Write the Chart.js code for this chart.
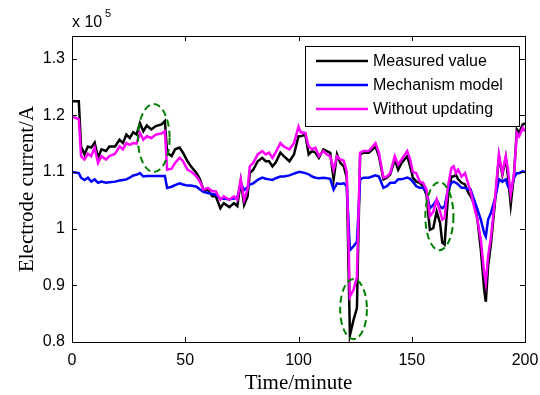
<!DOCTYPE html>
<html>
<head>
<meta charset="utf-8">
<script src="https://cdn.jsdelivr.net/npm/chart.js@4.4.1/dist/chart.umd.min.js"></script>
<style>
  html, body { margin: 0; padding: 0; background: #fff; }
  #wrap { width: 540px; height: 395px; }
</style>
</head>
<body>
<div id="wrap"><canvas id="chart" width="540" height="395"></canvas></div>
<script>
/* =========================
   DATA (current in x 10^5 A)
========================= */

const times = [
    0, 3, 4, 5.5, 7, 8.5, 10, 11.5, 13, 15, 16.5, 19, 21, 22.5, 24, 25.5, 27, 28.5,
    30, 31.5, 33, 35, 37, 39.5, 41, 42, 44, 45.5, 47.5, 49, 51, 52.5, 55, 56.5, 58,
    60, 62, 63.5, 65.5, 67, 69.5, 71.5, 73, 74.5, 76, 77.5, 78.5, 80, 82, 84, 85.5,
    87, 88.5, 90, 92, 93.5, 96, 98, 100, 101, 103, 104.5, 106, 107.5, 109, 111,
    112.5, 114, 115.5, 117, 118.5, 120, 121.3, 122.7, 124.3, 125.8, 127.2, 128.7,
    131, 134, 135.5, 137.5, 139, 140.5, 142.5, 144, 145.5, 148, 149.3, 150.5, 152,
    153.5, 155, 156.5, 158, 159.5, 161, 162.5, 163.5, 164.5, 166, 167.5, 168.5,
    169.5, 170.5, 172, 173.5, 175, 176, 177.5, 179, 180.5, 182, 182.7, 183.7, 185,
    187, 188.5, 190, 191.5, 192.5, 193.7, 195.2, 196.4, 197.4, 199, 200
];

const measured = [
    1.225, 1.225, 1.145, 1.131, 1.145, 1.143, 1.152, 1.125, 1.140, 1.137, 1.145, 1.145, 1.157, 1.151, 1.166, 1.160, 1.170, 1.166,
    1.186, 1.172, 1.182, 1.175, 1.181, 1.184, 1.190, 1.134, 1.128, 1.140, 1.143, 1.134, 1.119, 1.110, 1.098, 1.087, 1.069,
    1.068, 1.057, 1.057, 1.036, 1.045, 1.038, 1.045, 1.040, 1.084, 1.042, 1.057, 1.098, 1.104, 1.119, 1.125, 1.119,
    1.119, 1.110, 1.117, 1.134, 1.128, 1.119, 1.131, 1.163, 1.163, 1.166, 1.131, 1.137, 1.134, 1.125, 1.140,
    1.137, 1.134, 1.087, 1.131, 1.116, 1.110, 1.090, 0.812, 0.839, 0.860, 1.131, 1.134,
    1.134, 1.145, 1.128, 1.087, 1.090, 1.096, 1.122, 1.104, 1.116, 1.128, 1.110, 1.090, 1.083,
    1.081, 1.075, 1.060, 0.998, 1.001, 1.030, 1.010, 0.975, 0.972, 1.057, 1.092, 1.092,
    1.095, 1.087, 1.081, 1.078, 1.063, 1.057, 1.045, 1.016, 0.963, 0.892, 0.871, 0.933, 0.975,
    1.057, 1.128, 1.095, 1.125, 1.092, 1.042, 1.098, 1.175, 1.169, 1.184, 1.186
];

const mechanism = [
    1.100, 1.098, 1.090, 1.086, 1.090, 1.083, 1.087, 1.081, 1.083, 1.081, 1.082, 1.083, 1.085, 1.086, 1.087, 1.090, 1.094, 1.095,
    1.098, 1.092, 1.093, 1.093, 1.093, 1.093, 1.093, 1.072, 1.074, 1.077, 1.080, 1.078, 1.076, 1.076, 1.074, 1.069, 1.065,
    1.063, 1.061, 1.060, 1.053, 1.053, 1.052, 1.053, 1.055, 1.080, 1.068, 1.073, 1.078, 1.080, 1.086, 1.090, 1.088,
    1.087, 1.086, 1.089, 1.092, 1.092, 1.094, 1.097, 1.100, 1.100, 1.098, 1.096, 1.092, 1.090, 1.089, 1.090,
    1.089, 1.088, 1.069, 1.080, 1.079, 1.080, 1.075, 0.962, 0.969, 0.977, 1.087, 1.090,
    1.090, 1.094, 1.092, 1.072, 1.075, 1.081, 1.081, 1.087, 1.087, 1.090, 1.088, 1.083, 1.075,
    1.072, 1.072, 1.066, 1.036, 1.042, 1.051, 1.039, 1.036, 1.039, 1.069, 1.081, 1.083,
    1.081, 1.078, 1.072, 1.072, 1.069, 1.069, 1.051, 1.034, 1.016, 0.992, 0.986, 1.016, 1.028,
    1.057, 1.087, 1.083, 1.087, 1.075, 1.066, 1.090, 1.098, 1.098, 1.101, 1.100
];

const withoutUpdating = [
    1.198, 1.193, 1.128, 1.122, 1.132, 1.128, 1.143, 1.116, 1.128, 1.122, 1.128, 1.132, 1.145, 1.140, 1.151, 1.148, 1.151, 1.150,
    1.169, 1.157, 1.163, 1.160, 1.166, 1.168, 1.172, 1.104, 1.106, 1.116, 1.125, 1.119, 1.104, 1.101, 1.092, 1.083, 1.069,
    1.072, 1.066, 1.066, 1.051, 1.057, 1.051, 1.057, 1.051, 1.087, 1.051, 1.069, 1.110, 1.116, 1.131, 1.137, 1.131,
    1.134, 1.125, 1.135, 1.151, 1.145, 1.140, 1.151, 1.180, 1.170, 1.169, 1.145, 1.140, 1.143, 1.128, 1.137,
    1.131, 1.128, 1.104, 1.128, 1.122, 1.120, 1.100, 0.880, 0.892, 0.915, 1.134, 1.137,
    1.137, 1.151, 1.134, 1.090, 1.092, 1.098, 1.128, 1.113, 1.122, 1.137, 1.122, 1.100, 1.098,
    1.083, 1.081, 1.069, 1.022, 1.030, 1.051, 1.030, 1.016, 1.019, 1.075, 1.107, 1.110,
    1.098, 1.104, 1.092, 1.098, 1.078, 1.066, 1.039, 1.016, 0.980, 0.921, 0.904, 0.951, 0.986,
    1.063, 1.131, 1.098, 1.128, 1.104, 1.060, 1.098, 1.169, 1.163, 1.178, 1.172
];

const seriesNames = ["Measured value", "Mechanism model", "Without updating"];
const seriesColors = ["#000000", "#0000ff", "#ff00ff"];

const xTicks = [0, 50, 100, 150, 200];
const yTicks = [0.8, 0.9, 1.0, 1.1, 1.2, 1.3];

// dashed ellipses: centre (t, v) and radii (rt, rv) in data units
const circles = [
    { t: 36.1, v: 1.160, rt: 7.0, rv: 0.060 },
    { t: 124.3, v: 0.858, rt: 5.9, rv: 0.053 },
    { t: 162.2, v: 1.022, rt: 6.2, rv: 0.060 }
];

/* =========================
   HELPERS
========================= */

const SANS = "'Liberation Sans', Arial, sans-serif";
const SERIF = "'Liberation Serif', 'Times New Roman', serif";

function toPoints(values) {
    return times.map((t, i) => ({ x: t, y: values[i] }));
}

/* =========================
   FRAME / LEGEND PLUGIN
========================= */

const framePlugin = {
    id: "frame",

    afterDatasetsDraw(chart) {
        const { ctx, scales: { x, y } } = chart;
        ctx.save();
        ctx.strokeStyle = "#008000";
        ctx.lineWidth = 2;
        ctx.setLineDash([7, 4]);
        circles.forEach(c => {
            const cx = x.getPixelForValue(c.t);
            const cy = y.getPixelForValue(c.v);
            const rx = Math.abs(x.getPixelForValue(c.t + c.rt) - cx);
            const ry = Math.abs(y.getPixelForValue(c.v + c.rv) - cy);
            ctx.beginPath();
            ctx.ellipse(cx, cy, rx, ry, 0, 0, Math.PI * 2);
            ctx.stroke();
        });
        ctx.restore();
    },

    afterDraw(chart) {
        const { ctx, chartArea: a, scales: { x, y } } = chart;
        ctx.save();

        // box + inward ticks
        ctx.strokeStyle = "#000";
        ctx.lineWidth = 1;
        ctx.strokeRect(a.left + 0.5, a.top + 0.5, a.right - a.left, a.bottom - a.top);

        ctx.beginPath();
        xTicks.forEach(v => {
            const px = Math.round(x.getPixelForValue(v)) + 0.5;
            ctx.moveTo(px, a.bottom); ctx.lineTo(px, a.bottom - 5);
            ctx.moveTo(px, a.top); ctx.lineTo(px, a.top + 5);
        });
        yTicks.forEach(v => {
            const py = Math.round(y.getPixelForValue(v)) + 0.5;
            ctx.moveTo(a.left, py); ctx.lineTo(a.left + 5, py);
            ctx.moveTo(a.right, py); ctx.lineTo(a.right - 5, py);
        });
        ctx.stroke();

        // exponent label
        ctx.fillStyle = "#000";
        ctx.textBaseline = "alphabetic";
        ctx.textAlign = "left";
        ctx.font = "16px " + SANS;
        ctx.fillText("x 10", a.left, 27);
        ctx.font = "11px " + SANS;
        ctx.fillText("5", a.left + 33, 17);

        // axis titles
        ctx.font = "21px " + SERIF;
        ctx.textAlign = "center";
        ctx.fillText("Time/minute", (a.left + a.right) / 2, 389);

        ctx.save();
        ctx.translate(33, (a.top + a.bottom) / 2);
        ctx.rotate(-Math.PI / 2);
        ctx.fillText("Electrode current/A", 0, 0);
        ctx.restore();

        // legend
        const lx = 305, ly = 46, lw = 214, lh = 80;
        ctx.fillStyle = "#fff";
        ctx.fillRect(lx, ly, lw, lh);
        ctx.strokeStyle = "#000";
        ctx.lineWidth = 1;
        ctx.strokeRect(lx + 0.5, ly + 0.5, lw, lh);

        ctx.font = "16px " + SANS;
        ctx.textAlign = "left";
        ctx.textBaseline = "middle";
        seriesNames.forEach((name, i) => {
            const ry = ly + 15 + i * 24;
            ctx.strokeStyle = seriesColors[i];
            ctx.lineWidth = 2.5;
            ctx.beginPath();
            ctx.moveTo(lx + 11, ry);
            ctx.lineTo(lx + 63, ry);
            ctx.stroke();
            ctx.fillStyle = "#000";
            ctx.fillText(name, lx + 68, ry + 1);
        });

        ctx.restore();
    }
};

/* =========================
   CHART
========================= */

const seriesValues = [measured, mechanism, withoutUpdating];

new Chart(document.getElementById("chart"), {

    type: "line",

    data: {
        datasets: seriesValues.map((vals, i) => ({
            label: seriesNames[i],
            data: toPoints(vals),
            borderColor: seriesColors[i],
            backgroundColor: seriesColors[i],
            borderWidth: 2.5,
            pointRadius: 0,
            tension: 0,
            order: 3 - i
        }))
    },

    options: {
        responsive: false,
        animation: false,
        devicePixelRatio: 1,
        layout: {
            padding: { left: 0, right: 15, top: 36, bottom: 0 }
        },
        plugins: {
            legend: { display: false },
            tooltip: { enabled: false }
        },
        scales: {
            x: {
                type: "linear",
                min: 0,
                max: 200,
                grid: { display: false, drawTicks: false },
                border: { display: false },
                afterBuildTicks: s => { s.ticks = xTicks.map(v => ({ value: v })); },
                afterFit: s => { s.height = 53; s.paddingLeft = 0; s.paddingRight = 0; },
                ticks: {
                    color: "#000",
                    padding: 9,
                    maxRotation: 0,
                    font: { family: SANS, size: 16 },
                    callback: v => String(v)
                }
            },
            y: {
                type: "linear",
                min: 0.8,
                max: 1.34,
                grid: { display: false, drawTicks: false },
                border: { display: false },
                afterBuildTicks: s => { s.ticks = yTicks.map(v => ({ value: v })); },
                afterFit: s => { s.width = 72; s.paddingTop = 0; s.paddingBottom = 0; },
                ticks: {
                    color: "#000",
                    padding: 7,
                    font: { family: SANS, size: 16 },
                    callback: v => String(Math.round(v * 10) / 10)
                }
            }
        }
    },

    plugins: [framePlugin]

});
</script>
</body>
</html>
